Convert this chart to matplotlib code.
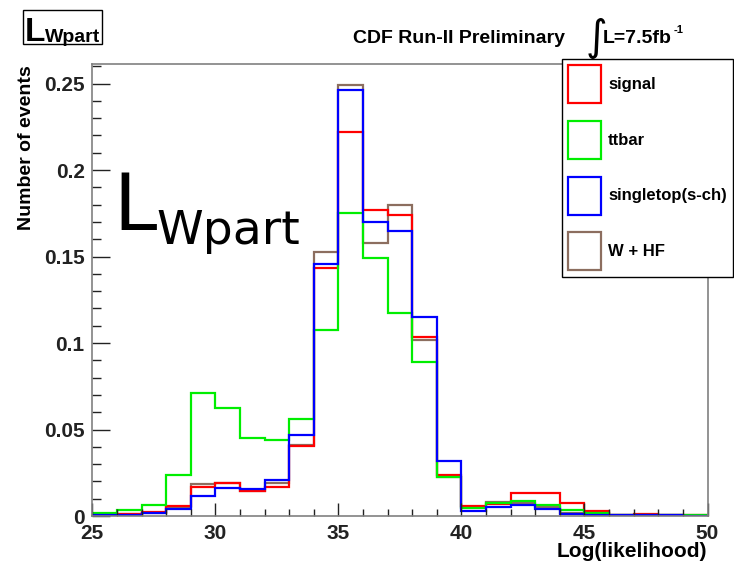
import numpy as np
import matplotlib
matplotlib.use("Agg")
import matplotlib.pyplot as plt
from matplotlib.patches import Patch, Rectangle
from matplotlib.ticker import MultipleLocator, FuncFormatter

W, H = 734, 563

# bin edges of the log(likelihood) histograms, 1 unit wide
edges = np.arange(25, 51)

signal = [0.0005, 0.001, 0.0022, 0.0055, 0.0166, 0.0192, 0.0143, 0.0167, 0.0405,
          0.1436, 0.2221, 0.1767, 0.174, 0.1032, 0.0239, 0.0058, 0.0069, 0.0133,
          0.0133, 0.0077, 0.0029, 0.0005, 0.001, 0.0005, 0.0003]
ttbar = [0.002, 0.0035, 0.0063, 0.0237, 0.0712, 0.0623, 0.045, 0.0439, 0.056,
         0.1078, 0.1751, 0.149, 0.1176, 0.0893, 0.0225, 0.0046, 0.0075, 0.0085,
         0.0065, 0.0035, 0.0015, 0.0006, 0.0004, 0.0004, 0.0008]
singletop = [0.0003, 0.0007, 0.0017, 0.004, 0.0117, 0.016, 0.0156, 0.0208, 0.047,
             0.1459, 0.2463, 0.1697, 0.1647, 0.1153, 0.0318, 0.0031, 0.005, 0.0062,
             0.0039, 0.0012, 0.0005, 0.0003, 0.0003, 0.0007, 0.0002]
whf = [0.0004, 0.001, 0.002, 0.005, 0.0183, 0.019, 0.0145, 0.019, 0.041,
       0.1528, 0.2494, 0.1578, 0.1797, 0.1018, 0.0227, 0.005, 0.0083, 0.0073,
       0.005, 0.002, 0.0015, 0.0005, 0.0003, 0.0003, 0.0002]

labels = ["signal", "ttbar", "singletop(s-ch)", "W + HF"]
colors = ["#ff0000", "#00ee00", "#0000ff", "#8c6e5f"]
series = [signal, ttbar, singletop, whf]
draw_order = [3, 0, 1, 2]  # W+HF first, single top on top

plt.rcParams["font.family"] = ["Liberation Sans", "DejaVu Sans"]
plt.rcParams["font.weight"] = "bold"


def px(x, y):
    # pixel position (from top-left) -> figure fraction
    return x / W, 1 - y / H


fig = plt.figure(figsize=(W / 100, H / 100), dpi=100)
x0, y0 = 92.3, 516
x1, y1 = 707.5, 63.5
ax = fig.add_axes([x0 / W, 1 - y0 / H, (x1 - x0) / W, (y0 - y1) / H])

for i in draw_order:
    ax.stairs(series[i], edges, color=colors[i], lw=1.6, baseline=0)

ax.set_xlim(25, 50)
ax.set_ylim(0, 0.2616)

ax.xaxis.set_major_locator(MultipleLocator(5))
ax.xaxis.set_minor_locator(MultipleLocator(1))
ax.yaxis.set_major_locator(MultipleLocator(0.05))
ax.yaxis.set_minor_locator(MultipleLocator(0.01))
ax.yaxis.set_major_formatter(FuncFormatter(lambda v, p: f"{v:g}"))

ax.tick_params(which="both", direction="in", top=False, right=False,
               colors="#222222", width=1, labelsize=15)
ax.tick_params(axis="y", which="major", length=13, pad=5.5)
ax.tick_params(axis="x", which="major", length=9.4, pad=6)
ax.tick_params(axis="y", which="minor", length=6.5)
ax.tick_params(axis="x", which="minor", length=4.7)
for s in ax.spines.values():
    s.set_color("#808080")
    s.set_linewidth(1.2)

ax.set_xlabel("Log(likelihood)", fontsize=15, weight="bold",
              ha="right", va="baseline")
ax.xaxis.set_label_coords(1.0, -(557 - y0) / (y0 - y1))
ax.set_ylabel("Number of events", fontsize=14, weight="bold",
              ha="right", va="center", rotation_mode="anchor")
ax.yaxis.set_label_coords((27 - x0) / (x1 - x0), 1.0 - 2 / (y0 - y1))

# legend with hollow boxes
handles = [Patch(facecolor="white", edgecolor=c, linewidth=1.6) for c in colors]
fig.legend(handles, labels, loc="upper left", bbox_to_anchor=px(561.7, 59),
           borderaxespad=0, frameon=True, fancybox=False, edgecolor="black",
           framealpha=1, borderpad=0.38, handlelength=1.98, handleheight=3.13,
           labelspacing=1.06, handletextpad=0.42,
           prop=dict(size=12, weight="bold"))

# boxed variable name, top left
fig.patches.append(Rectangle(px(23, 44), 79 / W, 34 / H, transform=fig.transFigure,
                             fill=False, ec="black", lw=1))
fig.text(*px(25, 41), "L", fontsize=24, va="baseline")
fig.text(*px(45, 41.5), "Wpart", fontsize=14, va="baseline")

# header
fig.text(*px(353, 43), "CDF Run-II Preliminary", fontsize=14, va="baseline")
fig.text(*px(586, 50), "\u222b", fontsize=30, va="baseline",
         family=["DejaVu Sans"], weight="normal")
fig.text(*px(603, 43), "L=7.5fb", fontsize=14, va="baseline")
fig.text(*px(674, 33), "-1", fontsize=8, va="baseline")

# large handwritten-style label inside the frame
fig.text(*px(113, 230), "L", fontsize=56, va="baseline",
         family="DejaVu Sans", weight="normal")
fig.text(*px(156, 244), "Wpart", fontsize=34, va="baseline",
         family="DejaVu Sans", weight="normal")

fig.savefig("out.png", dpi=100)
